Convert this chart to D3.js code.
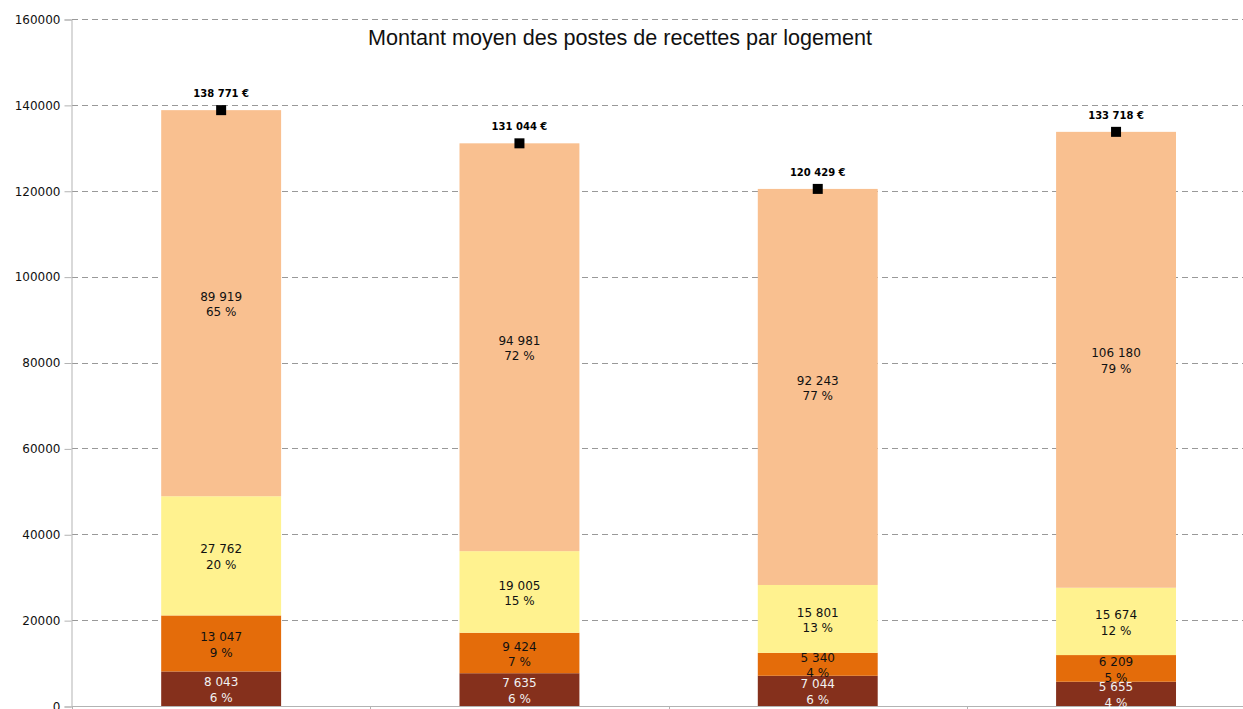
<!DOCTYPE html>
<html>
<head>
<meta charset="utf-8">
<script src="https://cdn.jsdelivr.net/npm/d3@7"></script>
<style>
  body { margin: 0; background: #fff; }
  svg { display: block; }
</style>
</head>
<body>
<svg width="1243" height="709"></svg>
<script>
// données
var categories = ["A", "B", "C", "D"];
var seriesNames = ["poste1", "poste2", "poste3", "poste4"];
var poste1 = [8043, 7635, 7044, 5655];
var poste2 = [13047, 9424, 5340, 6209];
var poste3 = [27762, 19005, 15801, 15674];
var poste4 = [89919, 94981, 92243, 106180];
var totals = [138771, 131044, 120429, 133718];
var yTicks = [0, 20000, 40000, 60000, 80000, 100000, 120000, 140000, 160000];

var colors = ["#85301c", "#e46c0a", "#fff28f", "#f9c090"];
var labelColors = ["#f2f2f2", "#111", "#111", "#111"];

var svg = d3.select("svg"),
  width = +svg.attr("width"),
  height = +svg.attr("height");

var plotLeft = 72, plotTop = 19, plotBottom = 706;

var x = d3.scaleBand()
  .domain(categories)
  .range([plotLeft, plotLeft + 4 * 298.3])
  .paddingInner(0.598)
  .paddingOuter(0.299);

var y = d3.scaleLinear()
  .domain([0, 160000])
  .range([plotBottom, plotTop]);

// table pour d3.stack
var table = categories.map(function (c, i) {
  return {cat: c, poste1: poste1[i], poste2: poste2[i], poste3: poste3[i], poste4: poste4[i], total: totals[i]};
});
var stacked = d3.stack().keys(seriesNames)(table);

// grille horizontale
svg.append("g")
  .selectAll("line")
  .data(yTicks.filter(function (d) { return d > 0; }))
  .enter().append("line")
  .attr("x1", plotLeft)
  .attr("x2", width)
  .attr("y1", function (d) { return Math.round(y(d)) + 0.5; })
  .attr("y2", function (d) { return Math.round(y(d)) + 0.5; })
  .style("stroke", "#999")
  .style("stroke-width", 1)
  .style("stroke-dasharray", "6,4");

// axe Y
var yAxis = svg.append("g")
  .attr("transform", "translate(" + (plotLeft - 0.5) + ",0.5)")
  .call(d3.axisLeft(y).tickValues(yTicks).tickSize(7).tickPadding(4).tickFormat(d3.format("d")));
yAxis.select(".domain").style("stroke", "#b3b3b3");
yAxis.selectAll(".tick line").style("stroke", "#b3b3b3");
yAxis.selectAll("text")
  .style("font-family", "DejaVu Sans")
  .style("font-size", "12px")
  .style("fill", "#111");

// axe X (sans libellés)
var bounds = d3.range(categories.length + 1).map(function (i) { return plotLeft + i * x.step(); });
svg.append("line")
  .attr("x1", plotLeft).attr("x2", width)
  .attr("y1", plotBottom + 0.5).attr("y2", plotBottom + 0.5)
  .style("stroke", "#b3b3b3");
svg.append("g")
  .selectAll("line")
  .data(bounds)
  .enter().append("line")
  .attr("x1", function (d) { return Math.round(d) + 0.5; })
  .attr("x2", function (d) { return Math.round(d) + 0.5; })
  .attr("y1", plotBottom)
  .attr("y2", plotBottom + 7)
  .style("stroke", "#b3b3b3");

// barres empilées
var layers = svg.append("g")
  .selectAll("g")
  .data(stacked)
  .enter().append("g")
  .style("fill", function (d, i) { return colors[i]; });

layers.selectAll("rect")
  .data(function (d) { return d; })
  .enter().append("rect")
  .attr("x", function (d) { return x(d.data.cat); })
  .attr("width", x.bandwidth())
  .attr("y", function (d) { return y(d[1]); })
  .attr("height", function (d) { return y(d[0]) - y(d[1]); });

// étiquettes valeur + pourcentage
var fmt = function (v) { return d3.format(",d")(v).replace(/,/g, " "); };

stacked.forEach(function (layer, li) {
  var g = svg.append("g")
    .style("font-family", "DejaVu Sans")
    .style("font-size", "12px")
    .style("fill", labelColors[li])
    .attr("text-anchor", "middle");
  var t = g.selectAll("text")
    .data(layer)
    .enter().append("text")
    .attr("x", function (d) { return x(d.data.cat) + x.bandwidth() / 2; })
    .attr("y", function (d) { return (y(d[0]) + y(d[1])) / 2; });
  t.append("tspan")
    .attr("x", function (d) { return x(d.data.cat) + x.bandwidth() / 2; })
    .attr("dy", "-0.2em")
    .text(function (d) { return fmt(d[1] - d[0]); });
  t.append("tspan")
    .attr("x", function (d) { return x(d.data.cat) + x.bandwidth() / 2; })
    .attr("dy", "1.3em")
    .text(function (d) { return Math.round((d[1] - d[0]) / d.data.total * 100) + " %"; });
});

// total : marqueur carré + étiquette
svg.append("g")
  .selectAll("rect")
  .data(table)
  .enter().append("rect")
  .attr("x", function (d) { return x(d.cat) + x.bandwidth() / 2 - 5; })
  .attr("y", function (d) { return y(d.total) - 5; })
  .attr("width", 10)
  .attr("height", 10)
  .style("fill", "#000");

svg.append("g")
  .selectAll("text")
  .data(table)
  .enter().append("text")
  .attr("x", function (d) { return x(d.cat) + x.bandwidth() / 2; })
  .attr("y", function (d) { return y(d.total) - 13; })
  .attr("text-anchor", "middle")
  .style("font-family", "DejaVu Sans")
  .style("font-weight", "bold")
  .style("font-size", "10px")
  .style("fill", "#000")
  .text(function (d) { return fmt(d.total) + " €"; });

// titre
svg.append("text")
  .attr("x", 620)
  .attr("y", 45)
  .attr("text-anchor", "middle")
  .style("font-family", "Liberation Sans")
  .style("font-size", "21.6px")
  .style("fill", "#111")
  .text("Montant moyen des postes de recettes par logement");
</script>
</body>
</html>
